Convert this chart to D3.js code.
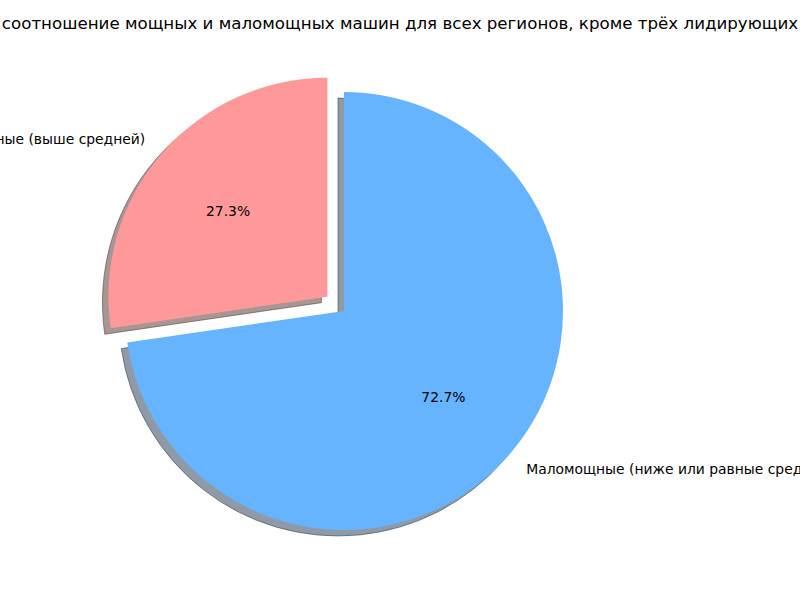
<!DOCTYPE html>
<html><head><meta charset="utf-8">
<script src="https://cdn.jsdelivr.net/npm/d3@7"></script>
<style>body{margin:0;background:#fff}svg{display:block}text{font-family:"DejaVu Sans",sans-serif}</style>
</head><body>
<svg id="c" width="800" height="600"></svg>
<script>
const categories = ["Мощные (выше средней)", "Маломощные (ниже или равные средней)"];
const values = [27.3, 72.7];
const colors = ["#ff9999", "#66b3ff"];
const explode = [0.1, 0];
const title = "соотношение мощных и маломощных машин для всех регионов, кроме трёх лидирующих";

const svg = d3.select("#c");
const cx = 344, cy = 311, R = 219;
const shadowOff = 6;

const pie = d3.pie().sort(null).startAngle(0).endAngle(-2 * Math.PI);
const arcs = pie(values);
const arc = d3.arc().innerRadius(0).outerRadius(R);

function offset(d, i) {
  const m = (d.startAngle + d.endAngle) / 2;
  return [explode[i] * R * Math.sin(m), -explode[i] * R * Math.cos(m)];
}

const g = svg.append("g").attr("transform", `translate(${cx},${cy})`);

// shadows
g.selectAll("path.shadow").data(arcs).join("path")
  .attr("class", "shadow")
  .attr("d", arc)
  .attr("transform", (d, i) => { const o = offset(d, i); return `translate(${o[0] - shadowOff},${o[1] + shadowOff})`; })
  .attr("fill", (d, i) => { const c = d3.rgb(colors[i]); return d3.rgb(c.r * 0.3, c.g * 0.3, c.b * 0.3); })
  .attr("fill-opacity", 0.5)
  .attr("stroke", (d, i) => { const c = d3.rgb(colors[i]); return d3.rgb(c.r * 0.3, c.g * 0.3, c.b * 0.3); })
  .attr("stroke-opacity", 0.5)
  .attr("stroke-width", 1);

// wedges
g.selectAll("path.wedge").data(arcs).join("path")
  .attr("class", "wedge")
  .attr("d", arc)
  .attr("transform", (d, i) => { const o = offset(d, i); return `translate(${o[0]},${o[1]})`; })
  .attr("fill", (d, i) => colors[i]);

// labels
g.selectAll("text.lab").data(arcs).join("text")
  .attr("class", "lab")
  .each(function (d, i) {
    const o = offset(d, i), m = (d.startAngle + d.endAngle) / 2;
    const x = o[0] + 1.1 * R * Math.sin(m), y = o[1] - 1.1 * R * Math.cos(m);
    d3.select(this).attr("x", x).attr("y", y)
      .attr("text-anchor", x < 0 ? "end" : "start");
  })
  .attr("dominant-baseline", "central")
  .attr("font-size", "13.89px")
  .attr("fill", "#000")
  .text((d, i) => categories[i]);

g.selectAll("text.pct").data(arcs).join("text")
  .attr("class", "pct")
  .each(function (d, i) {
    const o = offset(d, i), m = (d.startAngle + d.endAngle) / 2;
    d3.select(this).attr("x", o[0] + 0.6 * R * Math.sin(m)).attr("y", o[1] - 0.6 * R * Math.cos(m));
  })
  .attr("text-anchor", "middle")
  .attr("dominant-baseline", "central")
  .attr("font-size", "13.89px")
  .attr("fill", "#000")
  .text(d => d.data.toFixed(1) + "%");

svg.append("text").attr("x", 400).attr("y", 29).attr("text-anchor", "middle")
  .attr("font-size", "16.67px").attr("fill", "#000").text(title);
</script>
</body></html>
